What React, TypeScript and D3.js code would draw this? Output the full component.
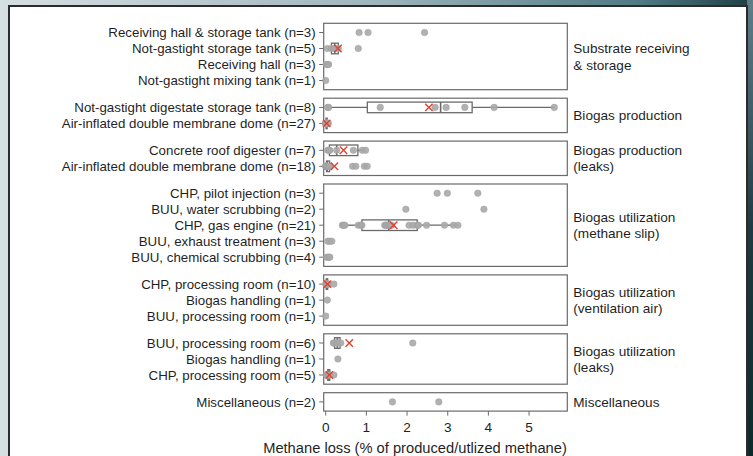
import React from "react";
import * as d3 from "d3";

// ---- data ----
const groupLabels = [
  ["Substrate receiving", "& storage"],
  ["Biogas production"],
  ["Biogas production", "(leaks)"],
  ["Biogas utilization", "(methane slip)"],
  ["Biogas utilization", "(ventilation air)"],
  ["Biogas utilization", "(leaks)"],
  ["Miscellaneous"],
];

const substrateRows = [
  "Receiving hall & storage tank (n=3)",
  "Not-gastight storage tank (n=5)",
  "Receiving hall (n=3)",
  "Not-gastight mixing tank (n=1)",
];
const substrateValues = [
  [0.82, 1.04, 2.43],
  [0.04, 0.14, 0.22, 0.31, 0.8],
  [0.01, 0.05, 0.07],
  [0.0],
];

const productionRows = [
  "Not-gastight digestate storage tank (n=8)",
  "Air-inflated double membrane dome (n=27)",
];
const productionValues = [
  [0.05, 0.07, 1.34, 2.69, 2.96, 3.42, 4.14, 5.62],
  [0, 0, 0, 0.005, 0.005, 0.01, 0.01, 0.01, 0.01, 0.015, 0.015, 0.02, 0.02, 0.02, 0.02, 0.025, 0.025, 0.03, 0.03, 0.03, 0.035, 0.04, 0.04, 0.045, 0.05, 0.05, 0.06],
];

const leaksRows = [
  "Concrete roof digester (n=7)",
  "Air-inflated double membrane dome (n=18)",
];
const leaksValues = [
  [0.05, 0.08, 0.1, 0.27, 0.68, 0.9, 0.98],
  [0, 0, 0.01, 0.01, 0.02, 0.02, 0.02, 0.03, 0.03, 0.04, 0.05, 0.06, 0.08, 0.1, 0.66, 0.74, 0.95, 1.02],
];

const slipRows = [
  "CHP, pilot injection (n=3)",
  "BUU, water scrubbing (n=2)",
  "CHP, gas engine (n=21)",
  "BUU, exhaust treatment (n=3)",
  "BUU, chemical scrubbing (n=4)",
];
const slipValues = [
  [2.74, 2.99, 3.74],
  [1.97, 3.89],
  [0.41, 0.44, 0.47, 0.8, 0.86, 0.89, 1.45, 1.48, 1.5, 1.52, 1.55, 1.58, 1.62, 2.05, 2.15, 2.25, 2.28, 2.48, 2.92, 3.14, 3.25],
  [0.05, 0.1, 0.15],
  [0.02, 0.06, 0.08, 0.1],
];

const ventRows = [
  "CHP, processing room (n=10)",
  "Biogas handling (n=1)",
  "BUU, processing room (n=1)",
];
const ventValues = [
  [0.0, 0.01, 0.01, 0.02, 0.02, 0.03, 0.04, 0.05, 0.06, 0.2],
  [0.04],
  [0.0],
];

const utilLeakRows = [
  "BUU, processing room (n=6)",
  "Biogas handling (n=1)",
  "CHP, processing room (n=5)",
];
const utilLeakValues = [
  [0.19, 0.2, 0.27, 0.3, 0.37, 2.14],
  [0.3],
  [0.02, 0.05, 0.07, 0.1, 0.2],
];

const miscRows = ["Miscellaneous (n=2)"];
const miscValues = [[1.64, 2.78]];

const xTicks = [0, 1, 2, 3, 4, 5];
const xTitle = "Methane loss (% of produced/utlized methane)";

const groupRows = [substrateRows, productionRows, leaksRows, slipRows, ventRows, utilLeakRows, miscRows];
const groupValues = [substrateValues, productionValues, leaksValues, slipValues, ventValues, utilLeakValues, miscValues];

// ---- layout ----
const W = 753;
const H = 456;
const plotLeft = 323.7;
const plotRight = 567.3;
const topY = 23.3;
const rowStep = 16;
const pad = 9.2;
const gap = 8.5;

const x = d3.scaleLinear().domain([-0.05, 5.94]).range([plotLeft, plotRight]);

const FONT = "'Liberation Sans', Arial, Helvetica, sans-serif";
const TEXT = "#1f1f1f";
const LINE = "#6a6a6a";
const PT = "#a9a9a9";
const RED = "#e2412f";

type Panel = { top: number; bottom: number; rows: { label: string; y: number; vals: number[] }[]; label: string[] };

function buildPanels(): Panel[] {
  const panels: Panel[] = [];
  let y = topY;
  groupRows.forEach((rows, gi) => {
    const top = y;
    const h = (rows.length - 1) * rowStep + 2 * pad;
    const r = rows.map((label, i) => ({ label, y: top + pad + i * rowStep, vals: groupValues[gi][i] }));
    panels.push({ top, bottom: top + h, rows: r, label: groupLabels[gi] });
    y = top + h + gap;
  });
  return panels;
}

function RowMarks({ vals, y }: { vals: number[]; y: number }) {
  const sorted = [...vals].sort((a, b) => a - b);
  const n = sorted.length;
  const hasBox = n >= 5;
  let box: React.ReactNode = null;
  let mean: React.ReactNode = null;
  if (hasBox) {
    const q1 = d3.quantile(sorted, 0.25)!;
    const med = d3.quantile(sorted, 0.5)!;
    const q3 = d3.quantile(sorted, 0.75)!;
    const iqr = q3 - q1;
    const lo = d3.min(sorted.filter((v) => v >= q1 - 1.5 * iqr))!;
    const hi = d3.max(sorted.filter((v) => v <= q3 + 1.5 * iqr))!;
    const bh = 5.3;
    box = (
      <g stroke={LINE} strokeWidth={1.3} fill="none">
        <line x1={x(lo)} x2={x(q1)} y1={y} y2={y} />
        <line x1={x(q3)} x2={x(hi)} y1={y} y2={y} />
        <rect x={x(q1)} y={y - bh} width={Math.max(0.5, x(q3) - x(q1))} height={2 * bh} fill="white" />
        <line x1={x(med)} x2={x(med)} y1={y - bh} y2={y + bh} strokeWidth={1.6} />
      </g>
    );
    const m = d3.mean(sorted)!;
    const s = 3.7;
    mean = (
      <g stroke={RED} strokeWidth={1.4}>
        <line x1={x(m) - s} x2={x(m) + s} y1={y - s} y2={y + s} />
        <line x1={x(m) - s} x2={x(m) + s} y1={y + s} y2={y - s} />
      </g>
    );
  }
  return (
    <g>
      {box}
      {sorted.map((v, i) => (
        <circle key={i} cx={x(v)} cy={y} r={3.3} fill={PT} fillOpacity={0.9} stroke="#9c9c9c" strokeWidth={0.4} />
      ))}
      {mean}
    </g>
  );
}

export default function App() {
  const panels = buildPanels();
  const last = panels[panels.length - 1];
  return (
    <svg width={W} height={H} style={{ position: "absolute", left: 0, top: 0 }} fontFamily={FONT}>
      <defs>
        <linearGradient id="bg" x1="0" y1="0" x2="1" y2="0">
          <stop offset="0" stopColor="#d6dfe2" />
          <stop offset="0.5" stopColor="#9fb5bc" />
          <stop offset="0.85" stopColor="#4f7a84" />
          <stop offset="1" stopColor="#1d3d43" />
        </linearGradient>
        <linearGradient id="bgR" x1="0" y1="0" x2="0" y2="1">
          <stop offset="0" stopColor="#5f7f88" />
          <stop offset="0.5" stopColor="#1f3a40" />
          <stop offset="1" stopColor="#0c2a2c" />
        </linearGradient>
      </defs>
      <rect x={0} y={0} width={W} height={H} fill="url(#bg)" />
      <rect x={747} y={0} width={6} height={H} fill="url(#bgR)" />
      <rect x={8} y={5} width={740} height={H} fill="#2b2b2b" />
      <rect x={10} y={7} width={736} height={H} fill="white" />

      {panels.map((p, pi) => (
        <g key={pi}>
          <rect x={plotLeft} y={p.top} width={plotRight - plotLeft} height={p.bottom - p.top} fill="white" stroke={LINE} strokeWidth={1.2} />
          {p.rows.map((r, ri) => (
            <g key={ri}>
              <line x1={plotLeft - 4.5} x2={plotLeft} y1={r.y} y2={r.y} stroke={LINE} strokeWidth={1} />
              <text x={plotLeft - 8} y={r.y} dy="0.35em" textAnchor="end" fontSize={13.3} fill={TEXT}>
                {r.label}
              </text>
              <RowMarks vals={r.vals} y={r.y} />
            </g>
          ))}
          {p.label.map((t, li) => (
            <text
              key={li}
              x={plotRight + 6}
              y={(p.top + p.bottom) / 2 + (li - (p.label.length - 1) / 2) * 16.5}
              dy="0.35em"
              fontSize={13.6}
              fill={TEXT}
            >
              {t}
            </text>
          ))}
        </g>
      ))}

      {xTicks.map((t) => (
        <g key={t}>
          <line x1={x(t)} x2={x(t)} y1={last.bottom} y2={last.bottom + 4.5} stroke={LINE} strokeWidth={1} />
          <text x={x(t)} y={last.bottom + 16.5} dy="0.35em" textAnchor="middle" fontSize={13.6} fill={TEXT}>
            {t}
          </text>
        </g>
      ))}
      <text x={415} y={last.bottom + 37} dy="0.35em" textAnchor="middle" fontSize={14.7} fill={TEXT}>
        {xTitle}
      </text>
    </svg>
  );
}
